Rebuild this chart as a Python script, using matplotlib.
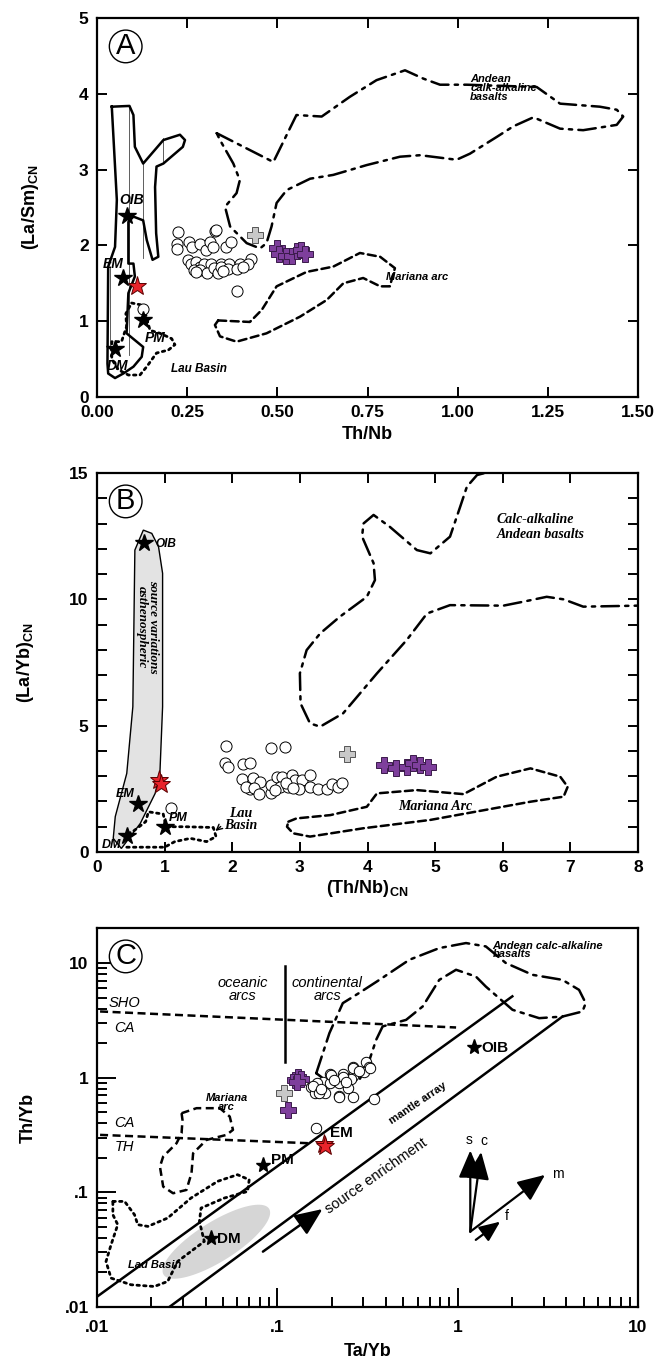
import numpy as np
import matplotlib
matplotlib.use("Agg")
import matplotlib.pyplot as plt

plt.rcParams['font.family'] = ['Liberation Sans', 'DejaVu Sans']
plt.rcParams['mathtext.fontset'] = 'custom'
plt.rcParams['mathtext.rm'] = 'Liberation Sans:bold'
plt.rcParams['mathtext.it'] = 'Liberation Sans:bold:italic'

# ---------------- panel A data: Th/Nb vs (La/Sm)CN ----------------
a_circ_x = [0.224, 0.328, 0.223, 0.221, 0.254, 0.263, 0.286, 0.303, 0.312, 0.323, 0.330,
            0.358, 0.371, 0.251, 0.262, 0.274, 0.285, 0.296, 0.315, 0.343, 0.367, 0.396,
            0.426, 0.420, 0.269, 0.286, 0.304, 0.324, 0.336, 0.344, 0.362, 0.387, 0.404,
            0.274, 0.350, 0.387, 0.128]
a_circ_y = [2.18, 2.19, 2.02, 1.95, 2.04, 1.98, 2.02, 1.94, 2.04, 1.98, 2.20,
            1.98, 2.05, 1.81, 1.76, 1.78, 1.72, 1.75, 1.75, 1.75, 1.76, 1.76,
            1.82, 1.76, 1.68, 1.68, 1.63, 1.70, 1.63, 1.71, 1.69, 1.69, 1.72,
            1.65, 1.66, 1.40, 1.16]
a_gray_x, a_gray_y = [0.438], [2.14]
a_purp_x = [0.500, 0.505, 0.525, 0.540, 0.555, 0.565, 0.578]
a_purp_y = [1.96, 1.88, 1.86, 1.86, 1.93, 1.94, 1.89]
a_red_x, a_red_y = [0.110], [1.47]
a_star_names = ['OIB', 'EM', 'PM', 'DM']
a_star_x = [0.082, 0.073, 0.128, 0.050]
a_star_y = [2.39, 1.57, 1.02, 0.63]

a_oib_field = [(0.041, 3.83), (0.090, 3.84), (0.101, 3.72), (0.105, 3.30), (0.128, 3.08),
               (0.184, 3.39), (0.230, 3.46), (0.244, 3.39), (0.238, 3.30), (0.184, 3.08),
               (0.165, 3.04), (0.161, 2.77), (0.164, 2.16), (0.170, 1.85), (0.154, 1.81),
               (0.138, 2.07), (0.128, 2.33), (0.101, 2.38), (0.087, 2.31), (0.087, 1.76),
               (0.101, 1.76), (0.105, 1.59), (0.087, 1.37), (0.082, 0.84), (0.105, 0.75),
               (0.128, 0.66), (0.124, 0.53), (0.101, 0.40), (0.073, 0.31), (0.050, 0.25),
               (0.031, 0.31), (0.029, 0.44), (0.031, 1.72), (0.050, 1.98), (0.055, 2.60),
               (0.045, 3.48), (0.041, 3.83)]
a_hatch_x = [0.090, 0.128, 0.182, 0.036]
a_hatch_y0 = [0.55, 1.83, 3.10, 0.62]
a_hatch_y1 = [3.84, 3.08, 3.42, 1.72]

a_lau_field = [(0.096, 1.24), (0.128, 1.21), (0.147, 0.88), (0.175, 0.84), (0.207, 0.77),
               (0.216, 0.69), (0.198, 0.62), (0.165, 0.58), (0.138, 0.40), (0.119, 0.29),
               (0.087, 0.29), (0.059, 0.36), (0.041, 0.50), (0.041, 0.73), (0.068, 0.73),
               (0.082, 0.93), (0.080, 1.10), (0.096, 1.24)]

a_andean_field = [(0.332, 3.48), (0.489, 3.10), (0.553, 3.72), (0.623, 3.70), (0.701, 3.96),
                  (0.775, 4.18), (0.854, 4.31), (0.905, 4.20), (0.951, 4.12), (1.025, 4.12),
                  (1.219, 4.09), (1.284, 3.87), (1.394, 3.83), (1.441, 3.79), (1.459, 3.70),
                  (1.441, 3.59), (1.348, 3.52), (1.284, 3.54), (1.210, 3.69), (1.154, 3.57),
                  (1.108, 3.43), (1.034, 3.21), (0.997, 3.13), (0.896, 3.19), (0.840, 3.17),
                  (0.748, 3.06), (0.655, 2.93), (0.591, 2.88), (0.526, 2.73), (0.498, 2.56),
                  (0.484, 2.25), (0.470, 2.03), (0.452, 1.96), (0.415, 2.03), (0.369, 2.25),
                  (0.355, 2.51), (0.387, 2.69), (0.396, 2.86), (0.378, 3.08), (0.341, 3.39),
                  (0.332, 3.48)]

a_mariana_field = [(0.336, 1.01), (0.424, 0.99), (0.457, 1.15), (0.498, 1.46), (0.581, 1.65),
                   (0.655, 1.72), (0.729, 1.90), (0.785, 1.85), (0.826, 1.70), (0.812, 1.46),
                   (0.785, 1.46), (0.738, 1.57), (0.683, 1.50), (0.637, 1.28), (0.563, 1.06),
                   (0.470, 0.84), (0.387, 0.73), (0.341, 0.80), (0.327, 0.95), (0.336, 1.01)]

# ---------------- panel B data: (Th/Nb)CN vs (La/Yb)CN ----------------
b_circ_x = [1.91, 2.58, 2.78, 1.89, 1.94, 2.16, 2.26, 2.14, 2.30, 2.41, 2.26, 2.21, 2.32,
            2.39, 2.58, 2.58, 2.66, 2.73, 2.71, 2.83, 2.88, 2.93, 3.03, 3.15, 2.98, 3.15,
            3.27, 3.40, 3.47, 3.57, 3.63, 2.63, 2.80, 2.90, 1.10]
b_circ_y = [4.19, 4.10, 4.17, 3.53, 3.37, 3.48, 3.53, 2.88, 2.92, 2.78, 2.51, 2.58, 2.55,
            2.29, 2.32, 2.65, 2.98, 2.98, 2.58, 2.58, 3.05, 2.85, 2.85, 3.05, 2.51, 2.58,
            2.51, 2.51, 2.71, 2.58, 2.75, 2.45, 2.75, 2.55, 1.75]
b_gray_x, b_gray_y = [3.70], [3.88]
b_purp_x = [4.24, 4.42, 4.58, 4.67, 4.77, 4.89]
b_purp_y = [3.44, 3.31, 3.35, 3.53, 3.44, 3.35]
b_red_x, b_red_y = [0.91, 0.95], [2.85, 2.70]
b_star_names = ['OIB', 'EM', 'PM', 'DM']
b_star_x = [0.695, 0.61, 1.006, 0.44]
b_star_y = [12.24, 1.89, 0.98, 0.63]

b_astheno_field = [(0.685, 12.74), (0.56, 11.95), (0.53, 5.75), (0.44, 3.11), (0.27, 1.40),
                   (0.24, 0.54), (0.36, 0.14), (0.64, 1.13), (0.86, 2.32), (0.93, 3.11),
                   (0.97, 5.75), (0.97, 11.03), (0.91, 12.08), (0.81, 12.61), (0.685, 12.74)]

b_lau_field = [(0.44, 0.19), (1.00, 0.19), (1.15, 0.41), (1.38, 0.54), (1.62, 0.41),
               (1.76, 0.61), (1.72, 0.97), (1.30, 1.00), (1.02, 1.00), (0.98, 1.50),
               (0.76, 1.59), (0.72, 1.20), (0.55, 0.85), (0.44, 0.70)]

b_andean_field = [(5.72, 14.99), (5.62, 14.92), (5.47, 14.46), (5.37, 13.66), (5.22, 12.48),
                  (4.93, 11.82), (4.73, 11.95), (4.33, 12.87), (4.09, 13.34), (3.94, 13.00),
                  (3.92, 12.48), (4.09, 11.43), (4.11, 10.76), (3.99, 10.10), (3.59, 9.31),
                  (3.30, 8.65), (3.10, 7.99), (3.00, 7.07), (3.01, 5.88), (3.15, 5.09),
                  (3.30, 4.96), (3.64, 5.49), (4.14, 7.07), (4.58, 8.39), (4.88, 9.44),
                  (5.22, 9.77), (6.01, 9.75), (6.31, 9.91), (6.65, 10.10), (6.90, 10.00),
                  (7.19, 9.71), (8.00, 9.75)]

b_mariana_field = [(2.83, 1.20), (2.95, 1.33), (3.45, 1.46), (3.99, 1.79), (4.14, 2.32),
                   (4.73, 2.45), (5.42, 2.29), (5.91, 2.98), (6.41, 3.31), (6.85, 2.98),
                   (6.96, 2.58), (6.90, 2.19), (6.41, 1.99), (4.93, 1.27), (3.94, 0.94),
                   (3.15, 0.61), (2.90, 0.74), (2.81, 1.00), (2.83, 1.20)]

# ---------------- panel C data: Ta/Yb vs Th/Yb (log-log) ----------------
c_circ_x = [0.310, 0.324, 0.262, 0.262, 0.231, 0.195, 0.179, 0.195, 0.221, 0.256, 0.304,
            0.166, 0.154, 0.161, 0.183, 0.221, 0.264, 0.345, 0.163, 0.157, 0.171, 0.219,
            0.246, 0.199, 0.231, 0.262, 0.328, 0.175, 0.205, 0.240, 0.285]
c_circ_y = [1.38, 1.24, 1.25, 1.04, 1.08, 1.08, 0.925, 0.906, 0.906, 0.97, 1.13,
            0.895, 0.826, 0.741, 0.741, 0.693, 0.684, 0.649, 0.363, 0.838, 0.733, 0.684,
            0.809, 1.06, 1.02, 1.21, 1.21, 0.80, 0.95, 0.92, 1.15]
c_gray_x, c_gray_y = [0.109], [0.741]
c_purp_x = [0.125, 0.130, 0.135, 0.128, 0.1146]
c_purp_y = [0.95, 1.02, 0.97, 0.92, 0.519]
c_red_x, c_red_y = [0.181, 0.184], [0.263, 0.255]
c_star_names = ['PM', 'DM', 'EM', 'OIB']
c_star_x = [0.0834, 0.0426, 0.181, 1.236]
c_star_y = [0.173, 0.0398, 0.263, 1.87]

c_array_upper = [(0.01, 0.0123), (2.01, 5.12)]
c_array_lower = [(0.0254, 0.0101), (3.81, 3.41)]
c_sho_ca = [(0.0104, 3.78), (0.98, 2.74)]
c_ca_th = [(0.0104, 0.317), (0.151, 0.268)]
c_arc_divider = [(0.1107, 9.33), (0.1107, 1.38)]

c_andean_field = [(0.1644, 1.094), (0.1945, 2.449), (0.2307, 4.467), (0.2851, 5.495),
                  (0.3681, 7.129), (0.5395, 10.67), (0.7907, 13.49), (1.112, 14.93),
                  (1.432, 13.96), (1.849, 10.0), (2.600, 7.889), (3.811, 7.129),
                  (4.710, 5.834), (5.129, 4.467), (4.920, 3.776), (3.811, 3.412),
                  (2.831, 3.304), (2.014, 3.908), (1.432, 6.237), (1.262, 7.621),
                  (0.9795, 8.730), (0.7907, 7.129), (0.6397, 4.178), (0.5176, 3.192),
                  (0.3837, 2.799), (0.3532, 2.138), (0.3243, 1.429), (0.2851, 0.957),
                  (0.2213, 0.925), (0.1786, 0.991), (0.1644, 1.094)]

c_mariana_field = [(-1.531, -0.310), (-1.448, -0.266), (-1.319, -0.266), (-1.264, -0.339),
                   (-1.246, -0.455), (-1.282, -0.499), (-1.393, -0.543), (-1.467, -0.659),
                   (-1.476, -0.833), (-1.504, -0.979), (-1.578, -1.008), (-1.633, -0.950),
                   (-1.651, -0.776), (-1.633, -0.688), (-1.559, -0.572), (-1.531, -0.484),
                   (-1.526, -0.368), (-1.531, -0.310)]  # log10 units

c_lau_field = [(-1.912, -1.079), (-1.847, -1.079), (-1.792, -1.195), (-1.774, -1.282),
               (-1.718, -1.297), (-1.608, -1.224), (-1.479, -1.050), (-1.331, -0.904),
               (-1.221, -0.846), (-1.156, -0.890), (-1.165, -0.992), (-1.294, -1.050),
               (-1.423, -1.137), (-1.432, -1.254), (-1.405, -1.428), (-1.479, -1.515),
               (-1.553, -1.603), (-1.608, -1.777), (-1.682, -1.821), (-1.811, -1.806),
               (-1.922, -1.748), (-1.950, -1.603), (-1.922, -1.457), (-1.885, -1.282),
               (-1.912, -1.195), (-1.912, -1.079)]  # log10 units

c_dm_ellipse = dict(x=0.0459, y=0.0371, major=0.345, minor=0.11, angle=32)  # major/minor in decades of x

c_enrich_arrow = [(0.0832, 0.0304), (0.178, 0.0715)]
c_vec_names = ['s', 'c', 'm', 'f']
c_vec_from = [(1.175, 0.0454), (1.175, 0.0454), (1.175, 0.0454), (1.26, 0.0385)]
c_vec_to = [(1.175, 0.232), (1.35, 0.225), (3.05, 0.142), (1.72, 0.0555)]

PURPLE = '#7e3f9c'
GRAY = '#c8c8c8'
RED = '#e8242b'
DASHDOT = (0, (7, 2.5, 1.3, 2.5))
DASHED = (0, (3.2, 1.8))
DOTTED = (0, (0.9, 1.5))

fig = plt.figure(figsize=(6.7, 13.63), dpi=100)
W, H = 670, 1363


def make_axes(top_px):
    return fig.add_axes([97 / W, 1 - (top_px + 379) / H, 541 / W, 379 / H])


def style_ticks(ax, right_top=True):
    ax.tick_params(which='both', direction='in', width=1.4, top=right_top, right=right_top,
                   labelsize=12.5, pad=6)
    ax.tick_params(which='major', length=7)
    ax.tick_params(which='minor', length=7)
    for lab in ax.get_xticklabels() + ax.get_yticklabels():
        lab.set_fontweight('bold')
    for s in ax.spines.values():
        s.set_linewidth(1.6)


def draw_field(ax, pts, ls, lw=1.8, color='black'):
    xs, ys = zip(*pts)
    ax.plot(xs, ys, color=color, lw=lw, linestyle=ls, dash_capstyle='round', zorder=2)


def panel_letter(ax, letter):
    ax.text(0.053, 0.925, letter, transform=ax.transAxes, fontsize=21, ha='center',
            va='center', bbox=dict(boxstyle='circle,pad=0.08', fc='white', ec='black', lw=1),
            zorder=6)


def draw_samples(ax, cx, cy, gx, gy, px, py, rx, ry, ms=8):
    ax.plot(cx, cy, 'o', ms=ms, mfc='white', mec='black', mew=0.7, zorder=3)
    ax.plot(gx, gy, 'P', ms=11, mfc=GRAY, mec='#555555', mew=0.7, zorder=4)
    ax.plot(px, py, 'P', ms=11, mfc=PURPLE, mec='#3a1a4a', mew=0.7, zorder=4)
    ax.plot(rx, ry, '*', ms=14, mfc=RED, mec='#5a0000', mew=0.7, zorder=5)


# ======================= panel A =======================
ax = make_axes(18)
draw_field(ax, a_oib_field, '-')
for hx, y0, y1 in zip(a_hatch_x, a_hatch_y0, a_hatch_y1):
    ax.plot([hx, hx], [y0, y1], color='#444444', lw=0.6, zorder=1)
draw_field(ax, a_lau_field, DOTTED, lw=2.0)
draw_field(ax, a_andean_field, DASHDOT)
draw_field(ax, a_mariana_field, DASHED)
draw_samples(ax, a_circ_x, a_circ_y, a_gray_x, a_gray_y, a_purp_x, a_purp_y, a_red_x, a_red_y)
ax.plot(a_star_x, a_star_y, '*', ms=13, color='black', zorder=5)
ax.text(0.097, 2.55, 'OIB', fontsize=10, style='italic', weight='bold', ha='center')
ax.text(0.044, 1.70, 'EM', fontsize=10, style='italic', weight='bold', ha='center')
ax.text(0.161, 0.72, 'PM', fontsize=10, style='italic', weight='bold', ha='center')
ax.text(0.056, 0.36, 'DM', fontsize=10, style='italic', weight='bold', ha='center')
ax.text(0.205, 0.33, 'Lau Basin', fontsize=8.5, style='italic', weight='bold', ha='left')
ax.text(1.035, 4.26, 'Andean\ncalk-alkaline\nbasalts', fontsize=8, style='italic',
        weight='bold', ha='left', va='top', linespacing=0.85)
ax.text(0.80, 1.55, 'Mariana arc', fontsize=8, style='italic', weight='bold', ha='left')
ax.set_xlim(0, 1.5)
ax.set_ylim(0, 5)
ax.set_xticks([0, 0.25, 0.5, 0.75, 1.0, 1.25, 1.5])
ax.set_xticklabels(['0.00', '0.25', '0.50', '0.75', '1.00', '1.25', '1.50'])
ax.set_yticks([0, 1, 2, 3, 4, 5])
style_ticks(ax)
ax.set_xlabel('Th/Nb', fontsize=13, weight='bold', labelpad=4)
ax.set_ylabel(r'(La/Sm)$_{\rm CN}$', fontsize=13, weight='bold', labelpad=27)
panel_letter(ax, 'A')

# ======================= panel B =======================
ax = make_axes(473)
bx, by = zip(*b_astheno_field)
ax.fill(bx, by, fc='#e3e3e3', ec='black', lw=1.0, zorder=1)
ax.text(0.745, 8.9, 'source variations\nasthenospheric', family='Liberation Serif',
        fontsize=9.5, style='italic', weight='bold', rotation=-90, ha='center', va='center',
        linespacing=0.9, zorder=2)
draw_field(ax, b_lau_field, DOTTED, lw=2.0)
draw_field(ax, b_andean_field, DASHDOT)
draw_field(ax, b_mariana_field, DASHED)
draw_samples(ax, b_circ_x, b_circ_y, b_gray_x, b_gray_y, b_purp_x, b_purp_y, b_red_x, b_red_y)
ax.plot(b_star_x, b_star_y, '*', ms=13, color='black', zorder=5)
ax.text(0.86, 12.2, 'OIB', fontsize=8.5, style='italic', weight='bold', ha='left', va='center')
ax.text(0.41, 2.28, 'EM', fontsize=9, style='italic', weight='bold', ha='center', va='center')
ax.text(1.2, 1.33, 'PM', fontsize=9, style='italic', weight='bold', ha='center', va='center')
ax.text(0.22, 0.28, 'DM', fontsize=9, style='italic', weight='bold', ha='center', va='center')
ax.text(2.12, 1.27, 'Lau\nBasin', family='Liberation Serif', fontsize=10, style='italic',
        weight='bold', ha='center', va='center', linespacing=0.9)
ax.annotate('', xy=(1.72, 0.76), xytext=(1.86, 1.08),
            arrowprops=dict(arrowstyle='->', lw=1.0, color='black'))
ax.text(5.91, 12.85, 'Calc-alkaline\nAndean basalts', family='Liberation Serif', fontsize=10,
        style='italic', weight='bold', ha='left', va='center', linespacing=1.2)
ax.text(5.0, 1.79, 'Mariana Arc', family='Liberation Serif', fontsize=10, style='italic',
        weight='bold', ha='center', va='center')
ax.set_xlim(0, 8)
ax.set_ylim(0, 15)
ax.set_xticks(range(0, 9))
ax.set_yticks([0, 5, 10, 15])
ax.set_yticks(range(0, 16), minor=True)
style_ticks(ax)
ax.set_xlabel(r'(Th/Nb)$_{\rm CN}$', fontsize=13, weight='bold', labelpad=2)
ax.set_ylabel(r'(La/Yb)$_{\rm CN}$', fontsize=13, weight='bold', labelpad=24)
panel_letter(ax, 'B')

# ======================= panel C =======================
ax = make_axes(928)
ax.set_xscale('log')
ax.set_yscale('log')
ax.set_xlim(0.01, 10)
ax.set_ylim(0.01, 20.2)

# grey DM ellipse (drawn in log space)
e = c_dm_ellipse
xdec_px = 541 / 3.0
ydec_px = 379 / np.log10(20.2 / 0.01)
t = np.linspace(0, 2 * np.pi, 100)
th = np.radians(e['angle'])
a_px = e['major'] * xdec_px
b_px = e['minor'] * xdec_px
dx = a_px * np.cos(t) * np.cos(th) - b_px * np.sin(t) * np.sin(th)
dy = a_px * np.cos(t) * np.sin(th) + b_px * np.sin(t) * np.cos(th)
ax.fill(e['x'] * 10 ** (dx / xdec_px), e['y'] * 10 ** (dy / ydec_px), fc='#d6d6d6',
        ec='none', zorder=1)

for seg, lw in [(c_array_upper, 1.8), (c_array_lower, 1.8), (c_arc_divider, 1.8)]:
    xs, ys = zip(*seg)
    ax.plot(xs, ys, color='black', lw=lw, zorder=2)
for seg in [c_sho_ca, c_ca_th]:
    xs, ys = zip(*seg)
    ax.plot(xs, ys, color='black', lw=1.8, linestyle=DASHED, zorder=2)
draw_field(ax, c_andean_field, DASHDOT)
mx, my = zip(*c_mariana_field)
ax.plot(10 ** np.array(mx), 10 ** np.array(my), color='black', lw=1.8, linestyle=DASHED, zorder=2)
lx, ly = zip(*c_lau_field)
ax.plot(10 ** np.array(lx), 10 ** np.array(ly), color='black', lw=2.0, linestyle=DOTTED,
        dash_capstyle='round', zorder=2)

draw_samples(ax, c_circ_x, c_circ_y, c_gray_x, c_gray_y, c_purp_x, c_purp_y, c_red_x, c_red_y, ms=7.5)
ax.plot(c_star_x[:2] + c_star_x[3:], c_star_y[:2] + c_star_y[3:], '*', ms=11, color='black', zorder=5)
ax.text(0.0925, 0.19, 'PM', fontsize=11, weight='bold', ha='left', va='center')
ax.text(0.0465, 0.0395, 'DM', fontsize=11, weight='bold', ha='left', va='center')
ax.text(0.197, 0.33, 'EM', fontsize=11, weight='bold', ha='left', va='center')
ax.text(1.36, 1.80, 'OIB', fontsize=11, weight='bold', ha='left', va='center')
ax.text(0.0142, 4.47, 'SHO', fontsize=10.5, style='italic', ha='center', va='center')
ax.text(0.0142, 2.70, 'CA', fontsize=10.5, style='italic', ha='center', va='center')
ax.text(0.0142, 0.405, 'CA', fontsize=10.5, style='italic', ha='center', va='center')
ax.text(0.0142, 0.248, 'TH', fontsize=10.5, style='italic', ha='center', va='center')
ax.text(0.064, 5.9, 'oceanic\narcs', fontsize=10.5, style='italic', ha='center', va='center',
        linespacing=0.9)
ax.text(0.189, 5.9, 'continental\narcs', fontsize=10.5, style='italic', ha='center',
        va='center', linespacing=0.9)
ax.text(1.56, 13.0, 'Andean calc-alkaline\nbasalts', fontsize=8, style='italic',
        weight='bold', ha='left', va='center', linespacing=0.85)
ax.text(10 ** -1.282, 10 ** -0.217, 'Mariana\narc', fontsize=8, style='italic', weight='bold',
        ha='center', va='center', linespacing=0.9)
ax.text(10 ** -1.68, 10 ** -1.63, 'Lau Basin', fontsize=8, style='italic', weight='bold',
        ha='center', va='center')
ax.text(0.60, 0.60, 'mantle array', fontsize=8, weight='bold', rotation=34,
        ha='center', va='center')
ax.text(0.355, 0.14, 'source enrichment', fontsize=10.5, rotation=35, ha='center', va='center')

(ex0, ey0), (ex1, ey1) = c_enrich_arrow
ax.annotate('', xy=(ex1, ey1), xytext=(ex0, ey0),
            arrowprops=dict(arrowstyle='-|>,head_length=0.7,head_width=0.3', lw=1.8,
                            color='black', mutation_scale=24, shrinkA=0, shrinkB=0))
for name, p0, p1 in zip(c_vec_names, c_vec_from, c_vec_to):
    ms_arrow = 18 if name == 'f' else 24
    ax.annotate('', xy=p1, xytext=p0,
                arrowprops=dict(arrowstyle='-|>,head_length=0.7,head_width=0.3', lw=1.6,
                                color='black', mutation_scale=ms_arrow, shrinkA=0, shrinkB=0))
vec_lab_pos = {'s': (1.16, 0.285), 'c': (1.40, 0.28), 'm': (3.6, 0.145), 'f': (1.88, 0.062)}
for name in c_vec_names:
    ax.text(*vec_lab_pos[name], name, fontsize=10, ha='center', va='center')

ax.set_xticks([0.01, 0.1, 1, 10])
ax.set_xticklabels(['.01', '.1', '1', '10'])
ax.set_yticks([0.01, 0.1, 1, 10])
ax.set_yticklabels(['.01', '.1', '1', '10'])
ax.tick_params(which='both', direction='in', top=False, right=False, width=1.4, labelsize=12.5, pad=6)
ax.tick_params(which='major', length=14)
ax.tick_params(which='minor', length=7)
ax.tick_params(axis='x', which='both', pad=9)
for lab in ax.get_xticklabels() + ax.get_yticklabels():
    lab.set_fontweight('bold')
for s in ax.spines.values():
    s.set_linewidth(1.6)
ax.set_xlabel('Ta/Yb', fontsize=13, weight='bold', labelpad=6)
ax.set_ylabel('Th/Yb', fontsize=13, weight='bold', labelpad=20)
panel_letter(ax, 'C')

fig.savefig('out.png', dpi=100)
